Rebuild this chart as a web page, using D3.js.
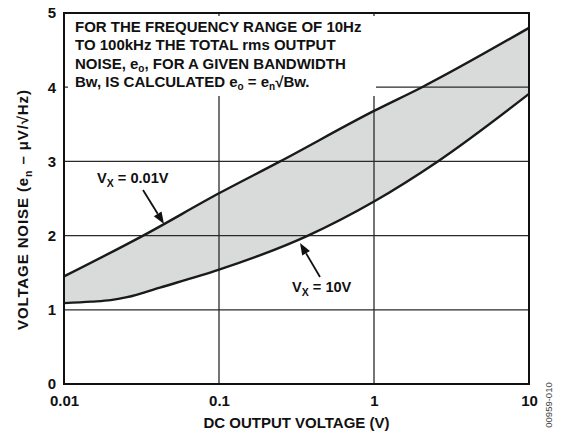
<!DOCTYPE html>
<html>
<head>
<meta charset="utf-8">
<script src="https://cdn.jsdelivr.net/npm/d3@7"></script>
<style>
  html, body { margin: 0; padding: 0; background: #fff; }
  svg { display: block; font-family: "Liberation Sans", Arial, Helvetica, sans-serif; }
</style>
</head>
<body>
<svg id="chart" width="563" height="440"></svg>
<script>
// ---- data ----
const xTickValues = [0.01, 0.1, 1, 10];
const xTickLabels = ["0.01", "0.1", "1", "10"];
const yTickValues = [0, 1, 2, 3, 4, 5];
const yTickLabels = ["0", "1", "2", "3", "4", "5"];
const xGridValues = [0.1, 1];
const yGridValues = [1, 2, 3, 4];

// Vx = 0.01V (upper curve)
const upperX = [0.01, 0.0324, 0.1, 0.248, 1, 2.04, 10];
const upperY = [1.45, 2.0, 2.57, 3.0, 3.68, 4.0, 4.80];
// Vx = 10V (lower curve)
const lowerX = [0.01, 0.015, 0.02, 0.0255, 0.0416, 0.1, 0.375, 1, 2.58, 10];
const lowerY = [1.09, 1.11, 1.13, 1.17, 1.30, 1.54, 2.0, 2.46, 3.0, 3.91];

const noteLines = [
  "FOR THE FREQUENCY RANGE OF 10Hz",
  "TO 100kHz THE TOTAL rms OUTPUT",
  "NOISE, e|O|, FOR A GIVEN BANDWIDTH",
  "Bw, IS CALCULATED e|O| = e|n|√Bw."
];

const upper = upperX.map((x, i) => ({x, y: upperY[i]}));
const lower = lowerX.map((x, i) => ({x, y: lowerY[i]}));

// ---- layout ----
const L = 64, R = 529, T = 13, B = 384;
const svg = d3.select("#chart");
const x = d3.scaleLog().domain([0.01, 10]).range([L, R]);
const y = d3.scaleLinear().domain([0, 5]).range([B, T]);

const FONT = 15;

// band between curves
const defs = svg.append("defs");
const underUpper = d3.area().x(d => x(d.x)).y0(B).y1(d => y(d.y)).curve(d3.curveMonotoneX);
defs.append("clipPath").attr("id", "clipUpper").append("path").attr("d", underUpper(upper));
const aboveLower = d3.area().x(d => x(d.x)).y0(T).y1(d => y(d.y)).curve(d3.curveMonotoneX);
svg.append("path").attr("d", aboveLower(lower)).attr("fill", "#d9dbdb").attr("clip-path", "url(#clipUpper)");

// gridlines
svg.append("g").selectAll("line").data(yGridValues).join("line")
  .attr("x1", L).attr("x2", R).attr("y1", d => y(d)).attr("y2", d => y(d))
  .attr("stroke", "#2a2a2a").attr("stroke-width", 1.3);
svg.append("g").selectAll("line").data(xGridValues).join("line")
  .attr("x1", d => x(d)).attr("x2", d => x(d)).attr("y1", T).attr("y2", B)
  .attr("stroke", "#2a2a2a").attr("stroke-width", 1.3);

// note box
svg.append("rect").attr("x", 68).attr("y", 16).attr("width", 308).attr("height", 80).attr("fill", "#fff");
const note = svg.append("text").attr("font-size", 15).attr("font-weight", "bold").attr("fill", "#111");
noteLines.forEach((line, i) => {
  const t = note.append("tspan").attr("x", 75).attr("y", 32 + i * 18.3);
  const parts = line.split("|");
  parts.forEach((p, j) => {
    if (j % 2 === 1) {
      t.append("tspan").attr("font-size", 10).attr("dy", 3).text(p.toLowerCase());
    } else {
      const s = t.append("tspan").text(p);
      if (j > 0) s.attr("dy", -3);
    }
  });
});

// curves
const line = d3.line().x(d => x(d.x)).y(d => y(d.y)).curve(d3.curveMonotoneX);
svg.append("path").attr("d", line(upper)).attr("fill", "none").attr("stroke", "#1a1a1a").attr("stroke-width", 2.4);
svg.append("path").attr("d", line(lower)).attr("fill", "none").attr("stroke", "#1a1a1a").attr("stroke-width", 2.4);

// frame
svg.append("rect").attr("x", L).attr("y", T).attr("width", R - L).attr("height", B - T)
  .attr("fill", "none").attr("stroke", "#111").attr("stroke-width", 2);

// axes (labels only)
const xAxis = d3.axisBottom(x).tickValues(xTickValues).tickFormat((d, i) => xTickLabels[i]).tickSize(0).tickPadding(11);
const gx = svg.append("g").attr("transform", `translate(0,${B})`).call(xAxis);
const yAxis = d3.axisLeft(y).tickValues(yTickValues).tickFormat((d, i) => yTickLabels[i]).tickSize(0).tickPadding(8);
const gy = svg.append("g").attr("transform", `translate(${L},0)`).call(yAxis);
[gx, gy].forEach(g => {
  g.select(".domain").remove();
  g.selectAll("text").attr("font-size", FONT).attr("font-weight", "bold").attr("fill", "#111")
    .attr("font-family", "'Liberation Sans', Arial, sans-serif");
});

// axis titles
svg.append("text").attr("x", (L + R) / 2).attr("y", 428).attr("text-anchor", "middle")
  .attr("font-size", FONT).attr("font-weight", "bold").attr("fill", "#111").text("DC OUTPUT VOLTAGE (V)");

const yt = svg.append("text").attr("transform", "translate(28,330) rotate(-90)")
  .attr("font-size", FONT).attr("font-weight", "bold").attr("fill", "#111")
  .attr("textLength", 240).attr("lengthAdjust", "spacing");
yt.append("tspan").text("VOLTAGE NOISE (e");
yt.append("tspan").attr("font-size", 10.5).attr("dy", 4).text("n");
yt.append("tspan").attr("dy", -4).text(" – μV/√Hz)");

// figure code
svg.append("text").attr("transform", "translate(552,405) rotate(-90)").attr("text-anchor", "middle")
  .attr("font-size", 9.5).attr("fill", "#444").text("00959-010");

// annotations with arrows
function arrow(x1, y1, x2, y2) {
  const ang = Math.atan2(y2 - y1, x2 - x1);
  const len = 12, w = 4.5;
  const bx = x2 - len * Math.cos(ang), by = y2 - len * Math.sin(ang);
  svg.append("line").attr("x1", x1).attr("y1", y1).attr("x2", bx).attr("y2", by)
    .attr("stroke", "#111").attr("stroke-width", 1.8);
  const px = -Math.sin(ang) * w, py = Math.cos(ang) * w;
  svg.append("path").attr("d", `M${x2},${y2}L${bx + px},${by + py}L${bx - px},${by - py}Z`).attr("fill", "#111");
}
function vxLabel(x0, y0, val) {
  const t = svg.append("text").attr("x", x0).attr("y", y0).attr("font-size", 14.6)
    .attr("font-weight", "bold").attr("fill", "#111");
  t.append("tspan").text("V");
  t.append("tspan").attr("font-size", 10.5).attr("dy", 4).text("X");
  t.append("tspan").attr("dy", -4).text(" = " + val);
}
vxLabel(97, 183, "0.01V");
arrow(143, 190, 164, 224);
vxLabel(292, 292, "10V");
arrow(320, 277, 300, 243);
</script>
</body>
</html>
